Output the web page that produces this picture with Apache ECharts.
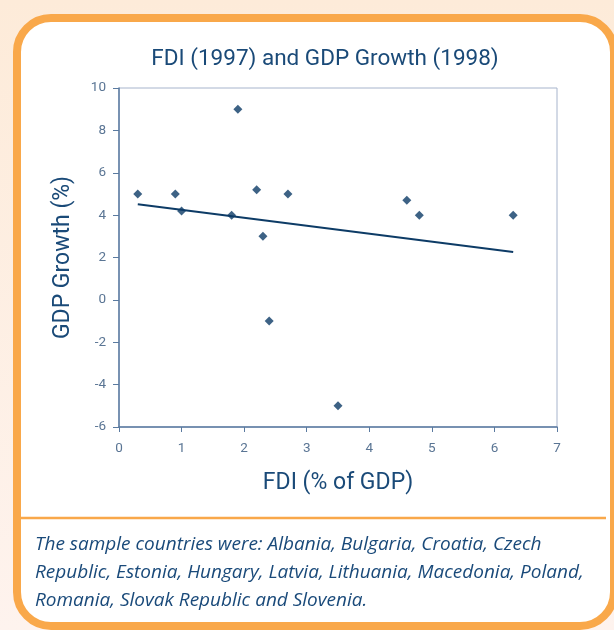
<!DOCTYPE html>
<html>
<head>
<meta charset="utf-8">
<script src="https://cdn.jsdelivr.net/npm/echarts@6/dist/echarts.min.js"></script>
<style>
html,body{margin:0;padding:0;}
body{width:614px;height:630px;background:linear-gradient(180deg,#fdebd9 0%,#fef3ee 100%);}
#c{width:614px;height:630px;}
</style>
</head>
<body>
<div id="c"></div>
<script>
// Data
var fdi = [0.3, 0.9, 1.0, 1.8, 1.9, 2.2, 2.3, 2.4, 2.7, 3.5, 4.6, 4.8, 6.3];
var gdpGrowth = [5.0, 5.0, 4.2, 4.0, 9.0, 5.2, 3.0, -1.0, 5.0, -5.0, 4.7, 4.0, 4.0];
var xTicks = [0, 1, 2, 3, 4, 5, 6, 7];
var yTicks = [-6, -4, -2, 0, 2, 4, 6, 8, 10];
var captionLines = [
  'The sample countries were: Albania, Bulgaria, Croatia, Czech',
  'Republic, Estonia, Hungary, Latvia, Lithuania, Macedonia, Poland,',
  'Romania, Slovak Republic and Slovenia.'
];

// linear least-squares trend line
var n = fdi.length, mx = 0, my = 0;
for (var i = 0; i < n; i++) { mx += fdi[i]; my += gdpGrowth[i]; }
mx /= n; my /= n;
var sxy = 0, sxx = 0;
for (var i = 0; i < n; i++) { sxy += (fdi[i]-mx)*(gdpGrowth[i]-my); sxx += (fdi[i]-mx)*(fdi[i]-mx); }
var slope = sxy/sxx, icpt = my - slope*mx;
var xMin = Math.min.apply(null, fdi), xMax = Math.max.apply(null, fdi);
var trend = [[xMin, icpt + slope*xMin], [xMax, icpt + slope*xMax]];

var pts = fdi.map(function(x, i){ return [x, gdpGrowth[i]]; });

var navy = '#0d3b66';
var labelCol = '#5a7594';
var tickFont = "'Roboto', sans-serif";

var captionGraphics = captionLines.map(function(t, i){
  return {
    type: 'text', left: 35, top: 535 + i*28, z: 10,
    style: { text: t, font: 'italic 19px "Open Sans", sans-serif', fill: '#1a4a7a' }
  };
});

var chart = echarts.init(document.getElementById('c'), null, {renderer: 'canvas'});
chart.setOption({
  animation: false,
  title: {
    text: 'FDI (1997) and GDP Growth (1998)',
    left: 320, textAlign: 'center', top: 43,
    textStyle: { fontFamily: 'Roboto', fontSize: 22.5, fontWeight: 'normal', color: '#1a4a78' }
  },
  grid: { left: 119, right: 57, top: 88, bottom: 203, show: true, borderColor: '#a7b4cc', borderWidth: 1, backgroundColor: 'transparent' },
  xAxis: {
    type: 'value', min: xTicks[0], max: xTicks[xTicks.length-1], interval: 1,
    name: 'FDI (% of GDP)', nameLocation: 'middle', nameGap: 45,
    nameTextStyle: { fontFamily: 'Roboto', fontSize: 23, color: '#1a4a78' },
    axisLine: { show: true, onZero: false, lineStyle: { color: '#5a7aa0', width: 1.5 } },
    axisTick: { show: true, length: 5, lineStyle: { color: '#5a7aa0' } },
    axisLabel: { margin: 15, fontFamily: tickFont, fontSize: 13.5, color: labelCol,
      formatter: function(v){ return xTicks.indexOf(v) >= 0 ? String(v) : ''; } },
    splitLine: { show: false }
  },
  yAxis: {
    type: 'value', min: yTicks[0], max: yTicks[yTicks.length-1], interval: 2,
    name: 'GDP Growth (%)', nameLocation: 'middle', nameGap: 44,
    nameTextStyle: { fontFamily: 'Roboto', fontSize: 23, color: '#1a4a78' },
    axisLine: { show: true, onZero: false, lineStyle: { color: '#5a7aa0', width: 1.5 } },
    axisTick: { show: true, length: 6, lineStyle: { color: '#5a7aa0' } },
    axisLabel: { margin: 13, fontFamily: tickFont, fontSize: 13.5, color: labelCol,
      formatter: function(v){ return yTicks.indexOf(v) >= 0 ? String(v) : ''; } },
    splitLine: { show: false }
  },
  graphic: [
    { type: 'rect', left: 13, top: 14, z: -10, silent: true,
      shape: { width: 597, height: 608, r: 34 },
      style: { fill: '#ffffff', stroke: '#f9a84a', lineWidth: 8 } },
    { type: 'line', z: -9, silent: true,
      shape: { x1: 17, y1: 518, x2: 606, y2: 518 },
      style: { stroke: '#f9a84a', lineWidth: 2.5 } }
  ].concat(captionGraphics),
  series: [
    { type: 'line', data: trend, symbol: 'none', lineStyle: { color: navy, width: 2 }, z: 2 },
    { type: 'scatter', data: pts, symbol: 'diamond', symbolSize: 9, itemStyle: { color: navy }, z: 3 }
  ]
});
</script>
</body>
</html>
